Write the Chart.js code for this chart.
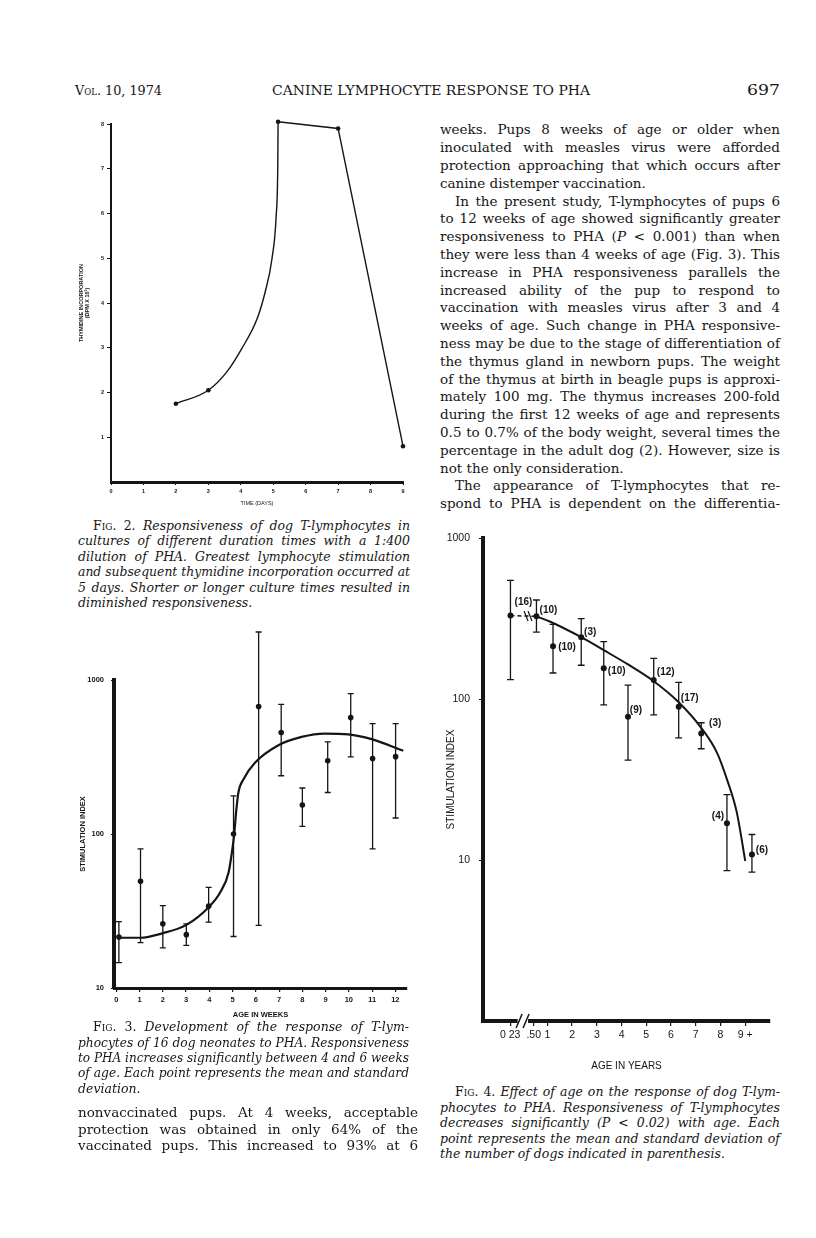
<!DOCTYPE html>
<html lang="en">
<head>
<meta charset="UTF-8">
<title>Canine lymphocyte response to PHA</title>
<script src="https://cdn.jsdelivr.net/npm/chart.js@4"></script>
<style>
  html, body { margin: 0; background: #fff; }
  body { position: relative; width: 816px; height: 1238px; overflow: hidden; color: #161616; font-family: "DejaVu Serif", serif; }
  .ln { position: absolute; text-align: justify; text-align-last: justify; transform-origin: 0 50%; }
  .it { font-style: italic; }
  .up { font-style: normal; }
  .sc { font-variant: small-caps; }
  canvas { position: absolute; }
</style>
</head>
<body>
<canvas id="fig2" width="360" height="400" style="left:60px;top:110px"></canvas>
<canvas id="fig3" width="360" height="410" style="left:60px;top:620px"></canvas>
<canvas id="fig4" width="360" height="560" style="left:440px;top:520px"></canvas>
<script>
// Fig. 2 - thymidine incorporation vs culture time
const dayTicks = [0, 1, 2, 3, 4, 5, 6, 7, 8, 9];
const dpmTicks = [1, 2, 3, 4, 5, 6, 7, 8];
const cultureDays = [2, 3, 5.15, 7, 9];
const thymidineDpm = [1.75, 2.05, 8.05, 7.9, 0.8];
const riseDays = [2, 3, 3.57, 4.03, 4.5, 4.75, 4.96, 5.09, 5.14, 5.15];
const riseDpm = [1.75, 2.05, 2.46, 2.98, 3.64, 4.24, 4.98, 5.94, 7.05, 8.05];

// Fig. 3 - neonates, age in weeks
const weekTicks = [0, 1, 2, 3, 4, 5, 6, 7, 8, 9, 10, 11, 12];
const indexTicks = [10, 100, 1000];
const pupWeeks = [0.11, 1.04, 2.0, 3.01, 3.97, 5.04, 6.12, 7.09, 8.0, 9.09, 10.08, 11.02, 12.01];
const pupIndex = [21.4, 49.3, 26.1, 22.2, 34, 100, 672, 456, 154, 299, 570, 309, 318];
const pupHigh = [27, 80, 34.3, 26.1, 45, 177, 2050, 695, 199, 396, 815, 521, 521];
const pupLow = [14.6, 19.7, 18.2, 18.9, 26.8, 21.6, 25.5, 239, 112, 186, 317, 80, 127];
const pupFitWeeks = [0.11, 1.04, 2.0, 3.01, 3.97, 4.47, 4.83, 4.97, 5.07, 5.15, 5.25, 5.47, 5.97, 6.97, 7.97, 8.97, 9.98, 10.98, 12.34];
const pupFitIndex = [21.2, 21.2, 22.7, 25.7, 33.5, 41.9, 56.5, 76, 100, 138, 186, 227, 291, 377, 427, 449, 444, 413, 347];

// Fig. 4 - dogs, age in years (axis is broken after 0.23, so positions are plot positions)
const ageTickPos = [-0.5, 0.45, 1, 2, 3, 4, 5, 6, 7, 8, 9];
const ageTickLabels = ['0 23', '.50', '1', '2', '3', '4', '5', '6', '7', '8', '9 +'];
const dogAgePos = [-0.49, 0.56, 1.23, 2.37, 3.28, 4.26, 5.3, 6.31, 7.22, 8.26, 9.27];
const dogIndex = [330, 326, 213, 242, 155, 77.5, 131, 89.4, 61, 16.9, 10.8];
const dogHigh = [546, 412, 291, 316, 227, 122, 179, 127, 71.2, 25.5, 14.4];
const dogLow = [132, 260, 145, 162, 92, 41.7, 79.8, 57.4, 49.1, 8.6, 8.4];
const dogCounts = ['(16)', '(10)', '(10)', '(3)', '(10)', '(9)', '(12)', '(17)', '(3)', '(4)', '(6)'];
const dogFitPos = [0.56, 1.12, 2.37, 3.28, 4.26, 5.3, 6.31, 7.22, 7.86, 8.26, 8.66, 9.0];
const dogFitIndex = [326, 302, 242, 201, 164, 129, 95.5, 66.2, 46.3, 31.7, 19.7, 9.86];

// where the "(n)" labels sit relative to their point, in pixels
const countOffsets = [[13, -13], [12, -6], [14, 1], [9, -5], [13, 3], [8, -7], [12, -8], [11, -9], [14, -10], [-9, -7], [10, -4]];

const INK = '#151515';
const SANS = '"Liberation Sans", Arial, sans-serif';

function pts(xs, ys) { return xs.map((x, i) => ({ x, y: ys[i] })); }
function ticksAt(values) { return s => { s.ticks = values.map(v => ({ value: v })); }; }
function font(size, weight) { return { family: SANS, size, weight: weight || 'normal', lineHeight: 1.2 }; }

function errorBarPlugin(xs, lows, highs, cap, width) {
  return {
    id: 'errorBars',
    afterDatasetsDraw(chart) {
      const { ctx, scales: { x, y } } = chart;
      ctx.save();
      ctx.strokeStyle = INK;
      ctx.lineWidth = width;
      xs.forEach((xv, i) => {
        const px = x.getPixelForValue(xv);
        const top = y.getPixelForValue(highs[i]);
        const bot = y.getPixelForValue(lows[i]);
        ctx.beginPath();
        ctx.moveTo(px, top); ctx.lineTo(px, bot);
        ctx.moveTo(px - cap, top); ctx.lineTo(px + cap, top);
        ctx.moveTo(px - cap, bot); ctx.lineTo(px + cap, bot);
        ctx.stroke();
      });
      ctx.restore();
    }
  };
}

const baseOptions = () => ({
  responsive: false,
  animation: false,
  events: [],
  plugins: { legend: { display: false }, tooltip: { enabled: false } }
});

// ---------- Fig. 2
new Chart(document.getElementById('fig2'), {
  type: 'scatter',
  data: {
    datasets: [
      { data: pts(riseDays, riseDpm), showLine: true, pointRadius: 0, borderColor: INK, borderWidth: 1.4, cubicInterpolationMode: 'monotone', clip: false },
      { data: pts(cultureDays.slice(2), thymidineDpm.slice(2)), showLine: true, pointRadius: 0, borderColor: INK, borderWidth: 1.4, clip: false },
      { data: pts(cultureDays, thymidineDpm), pointRadius: 2.3, backgroundColor: INK, borderWidth: 0, clip: false }
    ]
  },
  options: Object.assign(baseOptions(), {
    layout: { padding: { top: 14, right: 17, left: 0, bottom: 0 } },
    scales: {
      x: {
        type: 'linear', min: 0, max: 9,
        afterBuildTicks: ticksAt(dayTicks),
        afterFit: s => { s.height = 28; },
        grid: { drawOnChartArea: false, tickLength: 3, color: INK },
        border: { color: INK, width: 3 },
        ticks: { font: font(5.5, 'bold'), color: INK, padding: 3, maxRotation: 0, autoSkip: false },
        title: { display: true, text: 'TIME (DAYS)', font: font(5.5), color: INK, padding: { top: 0, bottom: 3.4 } }
      },
      y: {
        type: 'linear', min: 0, max: 8,
        afterBuildTicks: ticksAt(dpmTicks),
        afterFit: s => { s.width = 51; },
        grid: { drawOnChartArea: false, tickLength: 4, color: INK },
        border: { color: INK, width: 2 },
        ticks: { font: font(5.5, 'bold'), color: INK, padding: 3, autoSkip: false },
        title: { display: true, text: ['THYMIDINE INCORPORATION', '(DPM X 10\u00b3)'], font: font(5.5, 'bold'), color: INK, padding: { top: 18, bottom: 0 } }
      }
    }
  })
});

// ---------- Fig. 3
new Chart(document.getElementById('fig3'), {
  type: 'scatter',
  data: {
    datasets: [
      { data: pts(pupFitWeeks, pupFitIndex), showLine: true, pointRadius: 0, borderColor: INK, borderWidth: 2.2, cubicInterpolationMode: 'monotone', clip: false },
      { data: pts(pupWeeks, pupIndex), pointRadius: 2.8, backgroundColor: INK, borderWidth: 0, clip: false }
    ]
  },
  plugins: [errorBarPlugin(pupWeeks, pupLow, pupHigh, 3, 1.3)],
  options: Object.assign(baseOptions(), {
    layout: { padding: { top: 60, right: 13, left: 0, bottom: 0 } },
    scales: {
      x: {
        type: 'linear', min: -0.1, max: 12.5,
        afterBuildTicks: ticksAt(weekTicks),
        afterFit: s => { s.height = 42; },
        grid: { drawOnChartArea: false, tickLength: 4, color: INK, lineWidth: 1.2 },
        border: { color: INK, width: 3 },
        ticks: { font: font(7.5, 'bold'), color: INK, padding: 3, maxRotation: 0, autoSkip: false },
        title: { display: true, text: 'AGE IN WEEKS', font: font(7.5, 'bold'), color: INK, padding: { top: 0, bottom: 10.5 } }
      },
      y: {
        type: 'logarithmic', min: 10, max: 1000,
        afterBuildTicks: ticksAt(indexTicks),
        afterFit: s => { s.width = 54; },
        grid: { drawOnChartArea: false, tickLength: 3, color: INK },
        border: { color: INK, width: 4 },
        ticks: { font: font(7.5, 'bold'), color: INK, padding: 7, autoSkip: false, callback: v => String(v) },
        title: { display: true, text: 'STIMULATION INDEX', font: font(7.5, 'bold'), color: INK, padding: { top: 18, bottom: 0 } }
      }
    }
  })
});

// ---------- Fig. 4
const fig4Extras = {
  id: 'fig4Extras',
  afterDatasetsDraw(chart) {
    const { ctx, chartArea, scales: { x, y } } = chart;
    ctx.save();
    // axis break on the age axis
    const b = chartArea.bottom;
    const g0 = x.getPixelForValue(-0.2), g1 = x.getPixelForValue(0.22);
    ctx.fillStyle = '#fff';
    ctx.fillRect(g0, b - 4, g1 - g0, 8);
    ctx.strokeStyle = INK;
    ctx.lineWidth = 1.5;
    [-0.14, 0.14].forEach(v => {
      const px = x.getPixelForValue(v);
      ctx.beginPath(); ctx.moveTo(px - 3, b + 7); ctx.lineTo(px + 3, b - 7); ctx.stroke();
    });
    // break marks on the dashed link between the first two groups
    const ly = y.getPixelForValue((dogIndex[0] + dogIndex[1]) / 2);
    ctx.lineWidth = 1.2;
    [0.14, 0.3].forEach(v => {
      const px = x.getPixelForValue(v);
      ctx.beginPath(); ctx.moveTo(px - 2, ly - 5); ctx.lineTo(px + 2, ly + 5); ctx.stroke();
    });
    // number of dogs per group
    ctx.fillStyle = INK;
    ctx.font = 'bold 10px ' + SANS;
    ctx.textAlign = 'center';
    ctx.textBaseline = 'middle';
    dogCounts.forEach((label, i) => {
      const px = x.getPixelForValue(dogAgePos[i]) + countOffsets[i][0];
      const py = y.getPixelForValue(dogIndex[i]) + countOffsets[i][1];
      ctx.fillText(label, px, py);
    });
    ctx.restore();
  }
};

new Chart(document.getElementById('fig4'), {
  type: 'scatter',
  data: {
    datasets: [
      { data: pts(dogFitPos, dogFitIndex), showLine: true, pointRadius: 0, borderColor: INK, borderWidth: 2, cubicInterpolationMode: 'monotone', clip: false },
      { data: pts(dogAgePos.slice(0, 2), dogIndex.slice(0, 2)), showLine: true, pointRadius: 0, borderColor: INK, borderWidth: 1.5, borderDash: [4, 3], clip: false },
      { data: pts(dogAgePos, dogIndex), pointRadius: 3, backgroundColor: INK, borderWidth: 0, clip: false }
    ]
  },
  plugins: [errorBarPlugin(dogAgePos, dogLow, dogHigh, 3.4, 1.3), fig4Extras],
  options: Object.assign(baseOptions(), {
    layout: { padding: { top: 18, right: 30, left: 0, bottom: 0 } },
    scales: {
      x: {
        type: 'linear', min: -1.6, max: 10.0,
        afterBuildTicks: ticksAt(ageTickPos),
        afterFit: s => { s.height = 59; },
        grid: { drawOnChartArea: false, tickLength: 5, color: INK, lineWidth: 1.2 },
        border: { color: INK, width: 4 },
        ticks: { font: font(10.5), color: INK, padding: 3, maxRotation: 0, autoSkip: false, callback: (v, i) => ageTickLabels[i] },
        title: { display: true, text: 'AGE IN YEARS', font: font(10), color: INK, padding: { top: 0, bottom: 8 } }
      },
      y: {
        type: 'logarithmic', min: 1, max: 1000,
        afterBuildTicks: ticksAt(indexTicks),
        afterFit: s => { s.width = 43; },
        grid: { drawOnChartArea: false, tickLength: 4, color: INK },
        border: { color: INK, width: 4 },
        ticks: { font: font(10.5), color: INK, padding: 9, autoSkip: false, callback: v => String(v) },
        title: { display: true, text: 'STIMULATION INDEX', font: font(10), color: INK, padding: { top: 5, bottom: 0 } }
      }
    }
  })
});

// ---------- page text
const ASC = 0.928, DESC = 0.236;

function addLine(html, x, base, w, size, mode, italic) {
  const lh = Math.round(size * 1.3);
  const el = document.createElement('div');
  el.className = 'ln' + (italic ? ' it' : '');
  el.style.left = x + 'px';
  el.style.top = (base - (lh - (ASC + DESC) * size) / 2 - ASC * size) + 'px';
  el.style.fontSize = size + 'px';
  el.style.lineHeight = lh + 'px';
  el.style.whiteSpace = 'nowrap';
  el.innerHTML = html;
  document.body.appendChild(el);
  const nat = el.getBoundingClientRect().width;
  if (mode === 'fit' || nat > w) {
    el.style.transform = 'scaleX(' + (w / nat) + ')';
  } else if (mode === 'justify') {
    el.style.whiteSpace = 'normal';
    el.style.width = w + 'px';
  }
}

// '>' = paragraph indent, '|' = last line of a paragraph
function addBlock(lines, x, base, step, w, size, italic, indent) {
  lines.forEach((t, i) => {
    let ind = 0, mode = 'justify';
    if (t.startsWith('>')) { t = t.slice(1); ind = indent; }
    if (t.endsWith('|')) { t = t.slice(0, -1); mode = 'left'; }
    addLine(t, x + ind, base + i * step, w - ind, size, mode, italic);
  });
}

addLine('<span class="sc">Vol</span>. 10, 1974', 75, 95, 87, 13.5, 'fit');
addLine('CANINE LYMPHOCYTE RESPONSE TO PHA', 272, 95, 318, 13.5, 'fit');
addLine('697', 747, 95, 33, 14, 'fit');

addBlock([
  'weeks. Pups 8 weeks of age or older when',
  'inoculated with measles virus were afforded',
  'protection approaching that which occurs after',
  'canine distemper vaccination.|',
  '>In the present study, T-lymphocytes of pups 6',
  'to 12 weeks of age showed significantly greater',
  'responsiveness to PHA (<i>P</i> &lt; 0.001) than when',
  'they were less than 4 weeks of age (Fig. 3). This',
  'increase in PHA responsiveness parallels the',
  'increased ability of the pup to respond to',
  'vaccination with measles virus after 3 and 4',
  'weeks of age. Such change in PHA responsive-',
  'ness may be due to the stage of differentiation of',
  'the thymus gland in newborn pups. The weight',
  'of the thymus at birth in beagle pups is approxi-',
  'mately 100 mg. The thymus increases 200-fold',
  'during the first 12 weeks of age and represents',
  '0.5 to 0.7% of the body weight, several times the',
  'percentage in the adult dog (2). However, size is',
  'not the only consideration.|',
  '>The appearance of T-lymphocytes that re-',
  'spond to PHA is dependent on the differentia-'
], 440, 134, 17.8, 340, 13.5, false, 15);

addBlock([
  '><span class="up"><span class="sc">Fig</span>. 2.</span> Responsiveness of dog T-lymphocytes in',
  'cultures of different duration times with a 1:400',
  'dilution of PHA. Greatest lymphocyte stimulation',
  'and subsequent thymidine incorporation occurred at',
  '5 days. Shorter or longer culture times resulted in',
  'diminished responsiveness.|'
], 78, 530, 15.5, 332, 12.5, true, 15);

addBlock([
  '><span class="up"><span class="sc">Fig</span>. 3.</span> Development of the response of T-lym-',
  'phocytes of 16 dog neonates to PHA. Responsiveness',
  'to PHA increases significantly between 4 and 6 weeks',
  'of age. Each point represents the mean and standard',
  'deviation.|'
], 78, 1031.7, 15.3, 331, 12.5, true, 15);

addBlock([
  'nonvaccinated pups. At 4 weeks, acceptable',
  'protection was obtained in only 64% of the',
  'vaccinated pups. This increased to 93% at 6'
], 78, 1116.7, 16.7, 340, 13.5, false, 15);

addBlock([
  '><span class="up"><span class="sc">Fig</span>. 4.</span> Effect of age on the response of dog T-lym-',
  'phocytes to PHA. Responsiveness of T-lymphocytes',
  'decreases significantly (P &lt; 0.02) with age. Each',
  'point represents the mean and standard deviation of',
  'the number of dogs indicated in parenthesis.|'
], 440, 1096.7, 15.4, 340, 12.5, true, 15);
</script>
</body>
</html>
